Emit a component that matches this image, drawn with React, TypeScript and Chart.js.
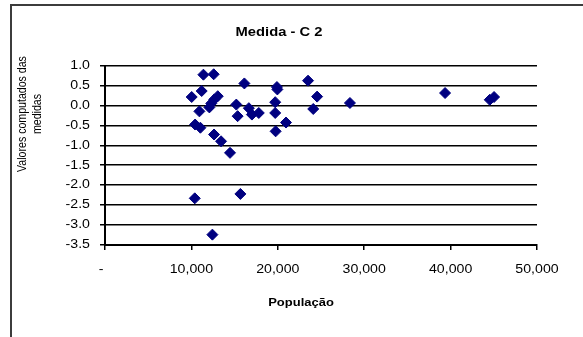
import { useEffect, useRef } from "react";
import { Chart, registerables } from "chart.js";

Chart.register(...registerables);

// População de cada município (eixo X)
const populacao = [
  10035, 10430, 10390, 10925, 11040, 11190, 11390, 12580, 12080, 12300,
  12650, 13050, 12430, 12620, 13430, 14470, 15200, 15350, 15670, 16130,
  16650, 17000, 17800, 19700, 19700, 19750, 19900, 19950, 20950, 23500,
  24100, 24550, 28350, 39360, 44530, 45030,
];

// Valores computados das medidas (eixo Y)
const medidas = [
  0.21, -0.48, -2.33, -0.15, -0.56, 0.36, 0.77, 0.78, -0.05, 0.05,
  0.15, 0.23, -3.24, -0.73, -0.9, -1.19, 0.02, -0.27, -2.22, 0.55,
  -0.07, -0.23, -0.19, 0.08, -0.19, -0.65, 0.46, 0.4, -0.43, 0.62,
  -0.09, 0.22, 0.06, 0.31, 0.14, 0.21,
];

const yTicks = [1.0, 0.5, 0.0, -0.5, -1.0, -1.5, -2.0, -2.5, -3.0, -3.5];
const xTicks = [0, 10000, 20000, 30000, 40000, 50000];

const titulo = "Medida - C 2";
const tituloX = "População";
const tituloY = ["Valores computados das", "medidas"];

const FONT = "'Liberation Sans', Arial, sans-serif";
// Largura extra do texto (letras ligeiramente alargadas na horizontal)
const SX = 1.18;

const nativeFillText = CanvasRenderingContext2D.prototype.fillText;

export default function App() {
  const canvasRef = useRef<HTMLCanvasElement | null>(null);

  useEffect(() => {
    const canvas = canvasRef.current;
    if (!canvas) return;

    const molduraETextos = {
      id: "molduraETextos",
      beforeDraw(chart: Chart) {
        const ctx = chart.ctx as any;
        ctx.save();
        ctx.fillStyle = "#ffffff";
        ctx.fillRect(0, 0, chart.width, chart.height);
        ctx.strokeStyle = "#3c3c3c";
        ctx.lineWidth = 2;
        ctx.beginPath();
        ctx.moveTo(11, chart.height + 2);
        ctx.lineTo(11, 5);
        ctx.lineTo(chart.width + 2, 5);
        ctx.stroke();
        ctx.restore();

        // rótulos dos eixos com a mesma largura alargada
        ctx.fillText = function (text: string, x: number, y: number, maxWidth?: number) {
          this.save();
          this.translate(x, y);
          this.scale(SX, 1);
          if (maxWidth === undefined) nativeFillText.call(this, text, 0, 0);
          else nativeFillText.call(this, text, 0, 0, maxWidth / SX);
          this.restore();
        };
      },
      afterDraw(chart: Chart) {
        const ctx = chart.ctx as any;
        delete ctx.fillText;

        ctx.save();
        ctx.fillStyle = "#000000";
        ctx.textAlign = "center";
        ctx.textBaseline = "middle";

        ctx.save();
        ctx.translate(279, 33);
        ctx.scale(SX, 1);
        ctx.font = `bold 12.5px ${FONT}`;
        ctx.fillText(titulo, 0, 0);
        ctx.restore();

        ctx.save();
        ctx.translate(301, 303);
        ctx.scale(SX, 1);
        ctx.font = `bold 11px ${FONT}`;
        ctx.fillText(tituloX, 0, 0);
        ctx.restore();

        ctx.save();
        ctx.translate(30, 114);
        ctx.scale(SX, 1);
        ctx.rotate(-Math.PI / 2);
        ctx.font = `10.6px ${FONT}`;
        ctx.fillText(tituloY[0], 0, -6.5);
        ctx.fillText(tituloY[1], 0, 6.5);
        ctx.restore();

        ctx.restore();
      },
    };

    const chart = new Chart(canvas, {
      type: "scatter",
      data: {
        datasets: [
          {
            label: titulo,
            data: populacao.map((x, i) => ({ x, y: medidas[i] })),
            pointStyle: "rectRot",
            pointRadius: 5.5,
            pointBackgroundColor: "#000080",
            pointBorderColor: "#000080",
            pointBorderWidth: 1,
          },
        ],
      },
      options: {
        responsive: false,
        animation: false,
        layout: { padding: { left: 0, top: 65.5, right: 46, bottom: 0 } },
        plugins: {
          legend: { display: false },
          title: { display: false },
          tooltip: { enabled: false },
        },
        scales: {
          x: {
            type: "linear",
            min: xTicks[0],
            max: xTicks[xTicks.length - 1],
            afterBuildTicks: (scale: any) => {
              scale.ticks = xTicks.map((value) => ({ value }));
            },
            afterFit: (scale: any) => {
              scale.height = 92;
            },
            grid: {
              drawOnChartArea: false,
              drawTicks: true,
              tickLength: 5,
              color: "#000000",
              lineWidth: 1.5,
            },
            border: { display: true, color: "#000000", width: 2 },
            ticks: {
              padding: 12,
              color: "#000000",
              font: { family: FONT, size: 12 },
              maxRotation: 0,
              callback: (v: any) =>
                Number(v) === 0 ? "-  " : Number(v).toLocaleString("en-US"),
            },
          },
          y: {
            type: "linear",
            min: yTicks[yTicks.length - 1],
            max: yTicks[0],
            afterBuildTicks: (scale: any) => {
              scale.ticks = yTicks.map((value) => ({ value }));
            },
            afterFit: (scale: any) => {
              scale.width = 105;
            },
            grid: {
              drawOnChartArea: true,
              drawTicks: true,
              tickLength: 5,
              color: "#000000",
              lineWidth: 1.5,
            },
            border: { display: true, color: "#000000", width: 2 },
            ticks: {
              padding: 10,
              color: "#000000",
              font: { family: FONT, size: 12 },
              callback: (v: any) => Number(v).toFixed(1),
            },
          },
        },
      },
      plugins: [molduraETextos],
    });

    return () => chart.destroy();
  }, []);

  return (
    <div style={{ position: "absolute", left: 0, top: 0, width: 583, height: 337 }}>
      <canvas ref={canvasRef} width={583} height={337} style={{ display: "block" }} />
    </div>
  );
}
